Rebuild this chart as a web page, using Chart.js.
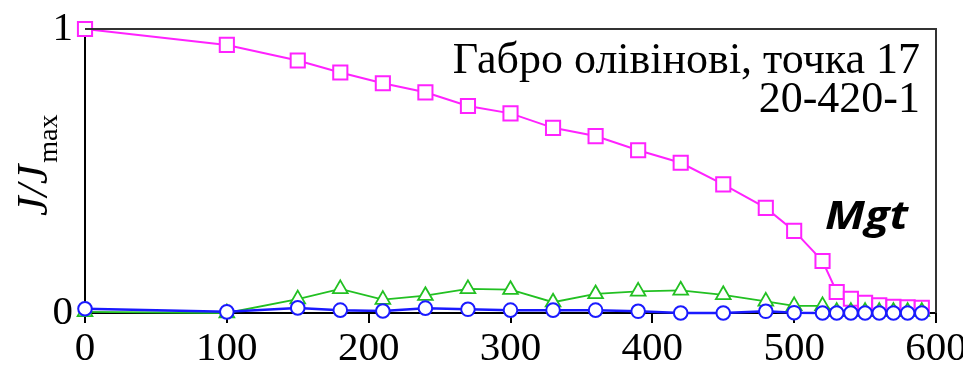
<!DOCTYPE html>
<html>
<head>
<meta charset="utf-8">
<script src="https://cdn.jsdelivr.net/npm/chart.js@4"></script>
<style>
  html, body { margin: 0; padding: 0; background: #fff; }
  #wrap { width: 963px; height: 367px; }
</style>
</head>
<body>
<div id="wrap"><canvas id="demag" width="963" height="367"></canvas></div>
<script>
// temperature steps, °C
const temps = [0, 100, 150, 180, 210, 240, 270, 300, 330, 360, 390, 420, 450, 480, 500, 520, 530, 540, 550, 560, 570, 580, 590];
// normalised intensity J/Jmax per mineral component
const mgtValues = [1.00, 0.944, 0.889, 0.847, 0.809, 0.777, 0.729, 0.703, 0.652, 0.623, 0.573, 0.529, 0.453, 0.370, 0.289, 0.183, 0.074, 0.050, 0.036, 0.027, 0.022, 0.020, 0.018];
const greenValues = [0.004, 0.0, 0.049, 0.085, 0.047, 0.061, 0.085, 0.082, 0.038, 0.067, 0.076, 0.080, 0.064, 0.041, 0.025, 0.025, 0.005, 0.005, 0.005, 0.005, 0.005, 0.005, 0.005];
const blueValues = [0.015, 0.004, 0.018, 0.010, 0.007, 0.017, 0.013, 0.010, 0.010, 0.010, 0.006, 0.0, 0.0, 0.006, 0.001, 0.0, 0.0, 0.0, 0.0, 0.0, 0.0, 0.0, 0.0];
const xTicks = [0, 100, 200, 300, 400, 500, 600];
const yTicks = [0, 1];
const titleLines = ['Габро олівінові, точка 17', '20-420-1'];
const curveLabel = 'Mgt';

const serif = '"Liberation Serif", "DejaVu Serif", serif';

function pts(vals) {
  return temps.map((t, i) => ({ x: t, y: vals[i] }));
}

// keep the plot box fixed: no extra room for overhanging tick labels
function noPad(s) {
  s.paddingLeft = 0;
  s.paddingRight = 0;
  s.paddingTop = 0;
  s.paddingBottom = 0;
}

// frame, texts and axis title
const decor = {
  id: 'decor',
  afterDraw(chart) {
    const ctx = chart.ctx;
    const a = chart.chartArea;
    ctx.save();
    ctx.strokeStyle = '#333';
    ctx.lineWidth = 2;
    ctx.beginPath();
    ctx.moveTo(a.left, a.top);
    ctx.lineTo(a.right, a.top);
    ctx.lineTo(a.right, a.bottom);
    ctx.stroke();

    ctx.fillStyle = '#000';
    ctx.font = '44px ' + serif;
    ctx.textAlign = 'right';
    ctx.textBaseline = 'alphabetic';
    ctx.fillText(titleLines[0], 920, 73);
    ctx.fillText(titleLines[1], 920, 112);

    // curve label
    ctx.font = 'italic bold 40px "Open Sans", "Liberation Sans", sans-serif';
    ctx.textAlign = 'left';
    const w = ctx.measureText(curveLabel).width;
    ctx.save();
    ctx.translate(825, 229);
    ctx.scale(83 / w, 1);
    ctx.fillText(curveLabel, 0, 0);
    ctx.restore();

    // y axis title J/Jmax
    ctx.save();
    ctx.translate(47, 216);
    ctx.rotate(-Math.PI / 2);
    ctx.font = 'italic 44px ' + serif;
    ctx.fillText('J/J', 0, 0);
    const jw = ctx.measureText('J/J').width;
    ctx.font = '28px ' + serif;
    ctx.fillText('max', jw + 2, 10);
    ctx.restore();
    ctx.restore();
  }
};

new Chart(document.getElementById('demag'), {
  type: 'line',
  data: {
    datasets: [
      {
        data: pts(blueValues),
        borderColor: '#1a1aff',
        borderWidth: 2.5,
        pointStyle: 'circle',
        pointRadius: 6.8,
        pointBackgroundColor: '#fff',
        pointBorderColor: '#1a1aff',
        pointBorderWidth: 2,
        clip: false
      },
      {
        data: pts(greenValues),
        borderColor: '#22c022',
        borderWidth: 1.8,
        pointStyle: 'triangle',
        pointRadius: 8.5,
        pointBackgroundColor: '#fff',
        pointBorderColor: '#22c022',
        pointBorderWidth: 1.8,
        clip: false
      },
      {
        data: pts(mgtValues),
        borderColor: '#ff22ff',
        borderWidth: 2,
        pointStyle: 'rect',
        pointRadius: 10,
        pointBackgroundColor: '#fff',
        pointBorderColor: '#ff22ff',
        pointBorderWidth: 2,
        clip: false
      }
    ]
  },
  options: {
    responsive: false,
    animation: false,
    devicePixelRatio: 1,
    layout: { padding: { top: 29, right: 27, left: 0, bottom: 0 } },
    plugins: { legend: { display: false }, tooltip: { enabled: false } },
    scales: {
      x: {
        type: 'linear',
        min: xTicks[0],
        max: xTicks[xTicks.length - 1],
        afterBuildTicks(s) { s.ticks = xTicks.map(v => ({ value: v })); },
        ticks: { color: '#000', font: { family: serif, size: 41 }, padding: 2, maxRotation: 0 },
        grid: { drawOnChartArea: false, drawTicks: true, tickLength: 10, color: '#000', lineWidth: 2 },
        border: { color: '#000', width: 2 },
        afterFit(s) { s.height = 54; noPad(s); }
      },
      y: {
        min: 0,
        max: 1,
        afterBuildTicks(s) { s.ticks = yTicks.map(v => ({ value: v })); },
        ticks: { color: '#000', font: { family: serif, size: 41 }, padding: 12 },
        grid: { drawOnChartArea: false, drawTicks: false },
        border: { color: '#000', width: 2 },
        afterFit(s) { s.width = 85; noPad(s); }
      }
    }
  },
  plugins: [decor]
});
</script>
</body>
</html>
